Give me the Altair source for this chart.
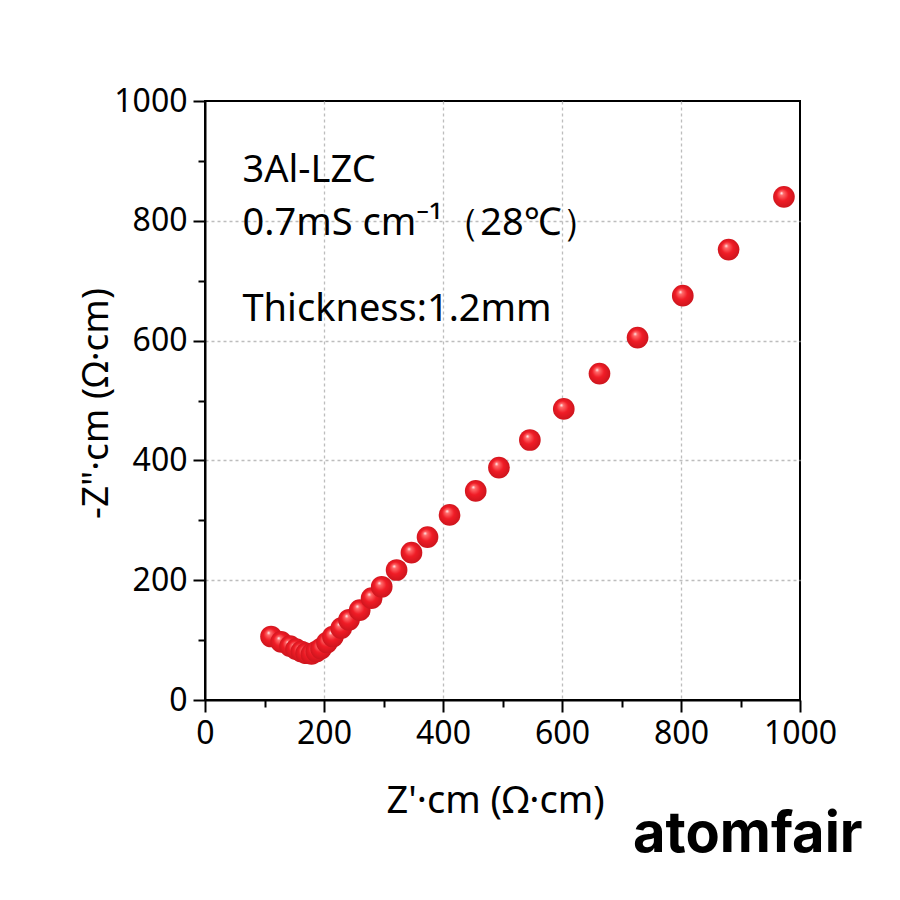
import altair as alt
import pandas as pd

# Nyquist data (ohm*cm)
z_real = [111, 128, 143, 153, 162, 170, 179, 187, 195, 205, 215, 229, 242, 260,
          280, 297, 322, 347, 374, 411, 455, 494, 546, 603, 663, 727, 803, 880, 973]
z_imag = [106, 97, 90, 85, 81, 78, 77, 81, 86, 96, 106, 120, 134, 150,
          170, 189, 217, 246, 272, 309, 349, 388, 434, 486, 545, 605, 675, 752, 840]

major_ticks = [0, 200, 400, 600, 800, 1000]
minor_ticks = [100, 300, 500, 700, 900]
grid_lines = [200, 400, 600, 800]

notes = ["3Al-LZC", "0.7mS cm\u207b\u00b9\uff0828\u2103\uff09", "Thickness:1.2mm"]
note_x = [63, 63, 63]
note_y = [865, 777, 632]

df = pd.DataFrame({"zr": z_real, "zi": z_imag})
df_notes = pd.DataFrame({"label": notes, "nx": note_x, "ny": note_y})

font = "Noto Sans"
xs = alt.Scale(domain=[0, 1000], nice=False, zero=False)
ys = alt.Scale(domain=[0, 1000], nice=False, zero=False)

ball = alt.RadialGradient(
    gradient="radial",
    x1=0.38, y1=0.32, r1=0.0,
    x2=0.5, y2=0.5, r2=0.55,
    stops=[
        alt.GradientStop(offset=0.0, color="#ffffff"),
        alt.GradientStop(offset=0.16, color="#ff6b6b"),
        alt.GradientStop(offset=0.5, color="#f01c26"),
        alt.GradientStop(offset=1.0, color="#c8141c"),
    ],
)


def bare_axis(vals, orient, size, grid=False):
    return alt.Axis(values=vals, orient=orient, labels=False, domain=False,
                    grid=grid, gridDash=[3, 3], gridColor="#bdbdbd", gridWidth=1.3,
                    title=None, ticks=size > 0, tickColor="black", tickWidth=2,
                    tickSize=max(size, 1))


def main_axis(title, orient, **kw):
    return alt.Axis(
        values=major_ticks, format="d", title=title, orient=orient, grid=False,
        domainColor="black", domainWidth=2, tickColor="black", tickWidth=2, tickSize=12,
        labelFont=font, labelFontSize=32, labelColor="black", labelPadding=6,
        labelFlush=False, labelOverlap=False,
        titleFont=font, titleFontWeight="normal", titleColor="black",
        titleBaseline="alphabetic", titleAlign="center", **kw)


gridl = alt.Chart(df).mark_point(opacity=0).encode(
    x=alt.X("zr:Q", scale=xs, axis=bare_axis(grid_lines, "bottom", 0, True)),
    y=alt.Y("zi:Q", scale=ys, axis=bare_axis(grid_lines, "left", 0, True)),
)

minor = alt.Chart(df).mark_point(opacity=0).encode(
    x=alt.X("zr:Q", scale=xs, axis=bare_axis(minor_ticks, "bottom", 7)),
    y=alt.Y("zi:Q", scale=ys, axis=bare_axis(minor_ticks, "left", 7)),
)

points = alt.Chart(df).mark_circle(size=470, opacity=1, fill=ball).encode(
    x=alt.X("zr:Q", scale=xs, axis=main_axis(
        "Z'\u00b7cm (\u03a9\u00b7cm)", "bottom",
        titleFontSize=38, titleX=290, titleY=112)),
    y=alt.Y("zi:Q", scale=ys, axis=main_axis(
        '-Z"\u00b7cm (\u03a9\u00b7cm)', "left",
        titleFontSize=37, titleX=-98, titleY=302, titleAngle=-90)),
)

texts = alt.Chart(df_notes).mark_text(
    align="left", baseline="alphabetic", font=font, fontSize=38, color="black"
).encode(
    x=alt.X("nx:Q", scale=xs, axis=None),
    y=alt.Y("ny:Q", scale=ys, axis=None),
    text="label:N",
)

brand = alt.Chart(pd.DataFrame({"t": ["atomfair"]})).mark_text(
    align="left", baseline="alphabetic", font="Inter", fontSize=56,
    fontWeight="bold", color="black"
).encode(x=alt.value(428), y=alt.value(751), text="t:N")

chart = alt.layer(gridl, minor, points, texts, brand).resolve_axis(
    x="independent", y="independent"
).properties(
    width=595, height=599,
    autosize=alt.AutoSizeParams(type="none"),
    padding={"left": 197, "top": 93, "right": 90, "bottom": 195},
).configure_view(
    stroke="black", strokeWidth=2
)

chart.save("out.html", embed_options={"renderer": "svg", "actions": False})
